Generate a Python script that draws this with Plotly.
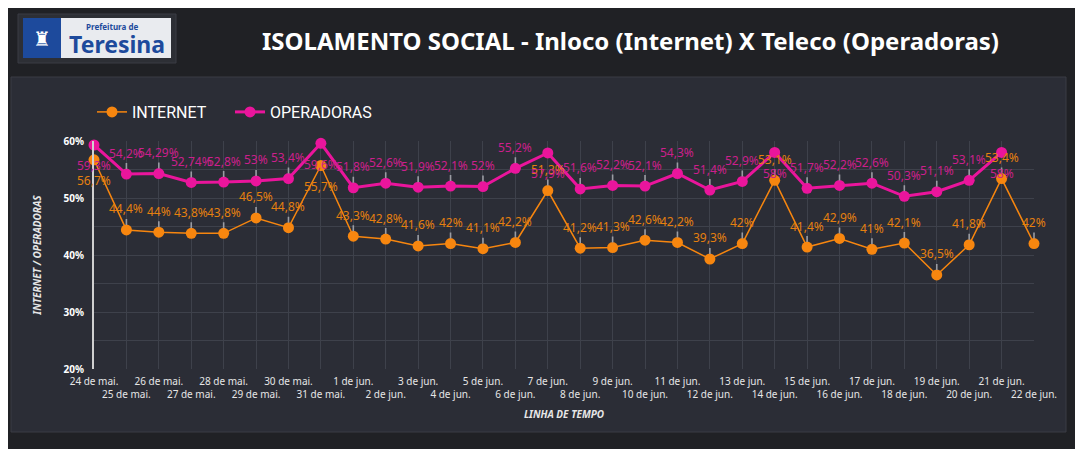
import plotly.graph_objects as go

# Dados
datas = ["24 de mai.", "25 de mai.", "26 de mai.", "27 de mai.", "28 de mai.", "29 de mai.",
         "30 de mai.", "31 de mai.", "1 de jun.", "2 de jun.", "3 de jun.", "4 de jun.",
         "5 de jun.", "6 de jun.", "7 de jun.", "8 de jun.", "9 de jun.", "10 de jun.",
         "11 de jun.", "12 de jun.", "13 de jun.", "14 de jun.", "15 de jun.", "16 de jun.",
         "17 de jun.", "18 de jun.", "19 de jun.", "20 de jun.", "21 de jun.", "22 de jun."]
internet = [56.7, 44.4, 44, 43.8, 43.8, 46.5, 44.8, 55.7, 43.3, 42.8, 41.6, 42, 41.1, 42.2,
            51.3, 41.2, 41.3, 42.6, 42.2, 39.3, 42, 53.1, 41.4, 42.9, 41, 42.1, 36.5, 41.8,
            53.4, 42]
operadoras = [59.3, 54.2, 54.29, 52.74, 52.8, 53, 53.4, 59.6, 51.8, 52.6, 51.9, 52.1, 52,
              55.2, 57.9, 51.6, 52.2, 52.1, 54.3, 51.4, 52.9, 58, 51.7, 52.2, 52.6, 50.3,
              51.1, 53.1, 58]
y_ticks = [20, 30, 40, 50, 60]
y_ticktext = ["20%", "30%", "40%", "50%", "60%"]

# rotulos abaixo do ponto (sem linha guia)
abaixo_internet = [0, 7]
abaixo_operadoras = [0, 7, 14, 21, 28]

# a pagina tem margem de 8px no body, entao a figura comeca em (8, 8)
OFF = 8
W, H = 1083 - OFF, 449 - OFF
L, R, T, B = 94, 1034, 141, 369  # area do grafico em pixels da janela


def px(x):
    return (x - L) / (R - L)


def py(y):
    return (B - y) / (B - T)


LARANJA = "#f7860f"
ROSA = "#ea159c"
fmt = lambda v: f"{v:g}".replace(".", ",") + "%"

fig = go.Figure()
fig.add_trace(go.Scatter(x=datas[:len(internet)], y=internet, name="INTERNET", mode="lines+markers",
                         line=dict(color=LARANJA, width=1.5), marker=dict(size=11, color=LARANJA),
                         cliponaxis=False, legend="legend"))
fig.add_trace(go.Scatter(x=datas[:len(operadoras)], y=operadoras, name="OPERADORAS", mode="lines+markers",
                         line=dict(color=ROSA, width=3), marker=dict(size=11, color=ROSA),
                         cliponaxis=False, legend="legend2"))

anns = []
for serie, cor, abaixo in [(internet, "#e5800f", abaixo_internet),
                           (operadoras, "#cc1f8c", abaixo_operadoras)]:
    for i, v in enumerate(serie):
        if i in abaixo:
            anns.append(dict(x=datas[i], y=v, xref="x", yref="y", text=fmt(v), showarrow=False,
                             yshift=-21, font=dict(color=cor, size=12, family="Noto Sans")))
        else:
            anns.append(dict(x=datas[i], y=v, xref="x", yref="y", text=fmt(v), showarrow=True,
                             ax=0, ay=-21, arrowhead=0, arrowwidth=1.6, arrowcolor="#9a9ca3",
                             standoff=5, font=dict(color=cor, size=12, family="Noto Sans")))


def texto(x, y, t, **font):
    anns.append(dict(x=px(x), y=py(y), xref="paper", yref="paper", showarrow=False, text=t,
                     xanchor="center", yanchor="middle", font=font))


# titulo
texto(630, 40, "<b>ISOLAMENTO SOCIAL - Inloco (Internet) X Teleco (Operadoras)</b>",
      color="white", size=24, family="Noto Sans")
# logo
texto(112, 26, "<b>Prefeitura de</b>", color="#1d4a9c", size=8, family="Noto Sans")
texto(117, 44, "<b>Teresina</b>", color="#1d4a9c", size=23, family="Noto Sans")
texto(42, 38, "♜", color="white", size=20)

shapes = [
    dict(type="rect", xref="paper", yref="paper", x0=px(11), x1=px(1066), y0=py(432), y1=py(77),
         fillcolor="#2b2d36", line=dict(color="#3a3c44", width=1), layer="below"),
    dict(type="rect", xref="paper", yref="paper", x0=px(18), x1=px(176), y0=py(63), y1=py(14),
         fillcolor="#2d2f35", line=dict(color="#3a3c44", width=1), layer="below"),
    dict(type="rect", xref="paper", yref="paper", x0=px(23), x1=px(171), y0=py(58), y1=py(18),
         fillcolor="#e9ebef", line=dict(width=0), layer="below"),
    dict(type="rect", xref="paper", yref="paper", x0=px(23), x1=px(61), y0=py(58), y1=py(18),
         fillcolor="#1d4a9c", line=dict(width=0), layer="below"),
]

ticktext = [d if i % 2 == 0 else "<br>" + d for i, d in enumerate(datas)]

leg = dict(orientation="h", xanchor="left", yanchor="middle", y=py(112),
           font=dict(size=16, color="white", family="Roboto"), bgcolor="rgba(0,0,0,0)")

fig.update_layout(
    width=W, height=H,
    margin=dict(l=L - OFF, r=W - (R - OFF), t=T - OFF, b=H - (B - OFF)),
    paper_bgcolor="#202125", plot_bgcolor="#2b2d36",
    font=dict(family="Noto Sans", color="#e6e6e6"),
    showlegend=True,
    legend=dict(leg, x=px(92)),
    legend2=dict(leg, x=px(230)),
    annotations=anns, shapes=shapes,
)
fig.update_xaxes(type="category", range=[0, len(datas) - 1], tickvals=datas, ticktext=ticktext,
                 tickfont=dict(size=10, color="#e6e6e6"), tickangle=0, showgrid=True,
                 ticklabelstandoff=5,
                 gridcolor="#3e414b", zeroline=False, showline=False, ticks="",
                 title=dict(text="LINHA DE TEMPO", standoff=10,
                            font=dict(size=10, color="#e6e6e6", style="italic", weight="bold")))
fig.update_yaxes(range=[20, 60], tickvals=y_ticks, ticktext=y_ticktext,
                 tickfont=dict(size=10, color="white", weight="bold"),
                 ticklabelstandoff=6,
                 showgrid=True, gridcolor="#3e414b", zeroline=False,
                 minor=dict(dtick=5, showgrid=True, gridcolor="#3e414b"),
                 showline=True, linecolor="#d0d0d0", linewidth=2,
                 title=dict(text="INTERNET / OPERADORAS", standoff=20,
                            font=dict(size=10, color="#e6e6e6", style="italic", weight="bold")))

fig.write_html("out.html")
